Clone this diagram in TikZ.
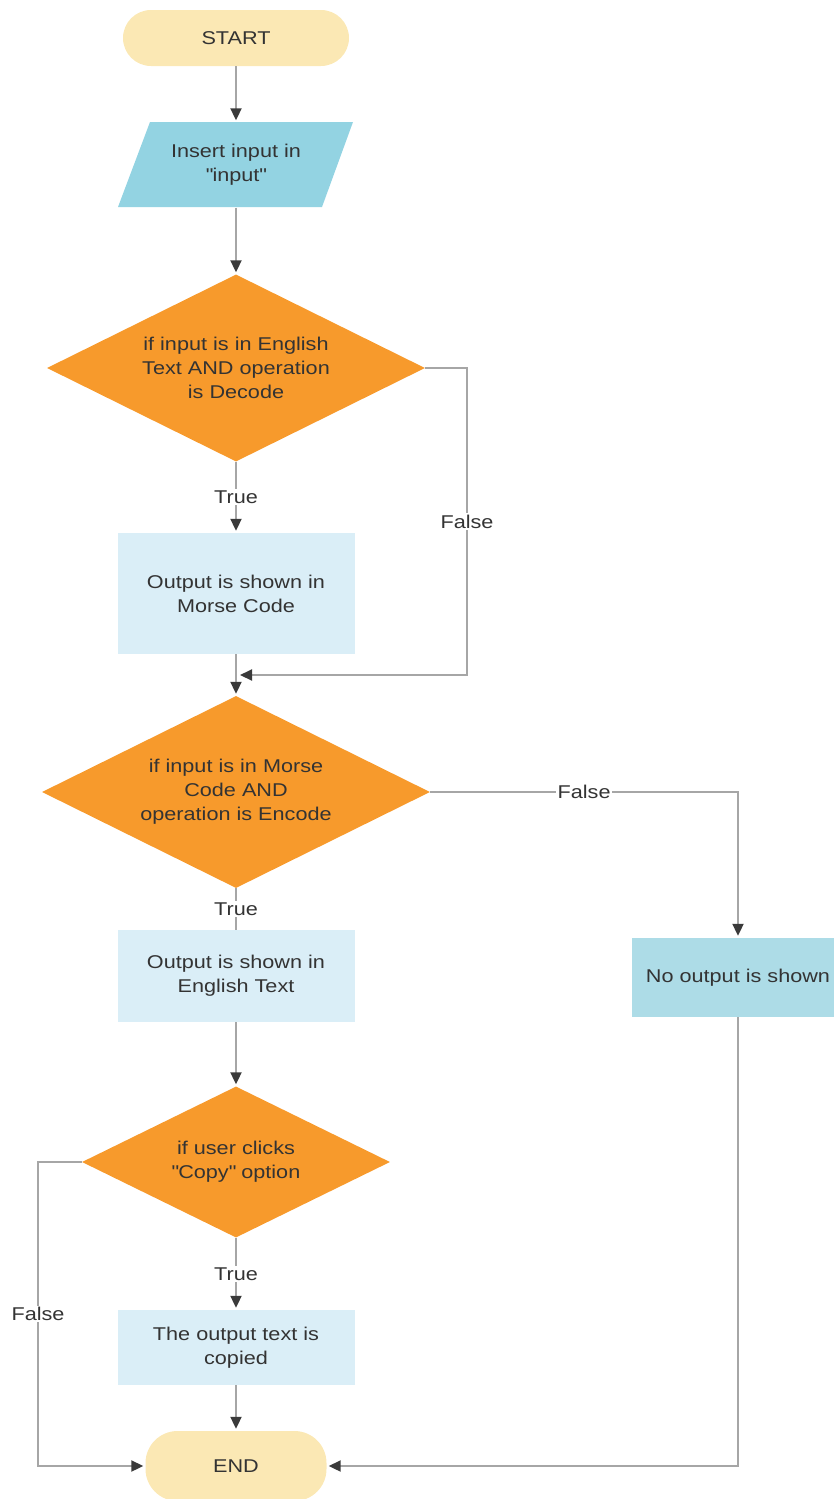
\documentclass[tikz,border=0pt]{standalone}
\usepackage{fontspec}
\setmainfont{Liberation Sans}[FakeStretch=1.17]
\usetikzlibrary{arrows.meta,shapes.geometric}
\definecolor{termfill}{HTML}{FBE8B4}
\definecolor{iofill}{HTML}{93D3E2}
\definecolor{procfill}{HTML}{DAEEF7}
\definecolor{nofill}{HTML}{ADDCE7}
\definecolor{decfill}{HTML}{F79A2C}
\definecolor{linegray}{HTML}{A6A6A6}
\definecolor{tipgray}{HTML}{3A3A3A}
\definecolor{txt}{HTML}{333333}
\begin{document}
\begin{tikzpicture}[x=1pt,y=-1pt,
  every node/.style={font=\fontsize{18.5}{24}\selectfont, text=txt, align=center},
  term/.style={fill=termfill, rounded corners=28pt, inner sep=0pt},
  proc/.style={fill=procfill, minimum width=237pt, inner sep=0pt},
  dec/.style={diamond, fill=decfill, inner sep=0pt, aspect=2},
  flow/.style={draw=linegray, line width=2pt, shorten >=2pt,
     -{Triangle[length=12pt,width=11pt,color=tipgray]}},
  plain/.style={draw=linegray, line width=2pt},
  lbl/.style={fill=white, inner sep=1.5pt}]
\useasboundingbox (0,0) rectangle (834,1499);
% nodes
\node[term, minimum width=226pt, minimum height=56pt] (start) at (236,38) {START};
\fill[iofill] (150,122) -- (353,122) -- (322,207) -- (118,207) -- cycle;
\node[minimum width=204pt, minimum height=85pt, inner sep=0pt] (inp) at (236,165) {Insert input in\\\textquotedbl input\textquotedbl};
\node[dec, minimum width=378pt, minimum height=187pt] (d1) at (236,368) {if input is in English\\Text AND operation\\is Decode};
\node[proc, minimum height=121pt] (p1) at (236,593.5) {Output is shown in\\Morse Code};
\coordinate (m1) at (236,675);
\node[dec, minimum width=388pt, minimum height=192pt] (d2) at (236,792) {if input is in Morse\\Code AND\\operation is Encode};
\node[proc, minimum height=92pt] (p2) at (236,976) {Output is shown in\\English Text};
\node[fill=nofill, minimum width=212pt, minimum height=79pt, inner sep=0pt] (no) at (738,977.5) {No output is shown};
\node[dec, minimum width=308pt, minimum height=151pt] (d3) at (236,1162) {if user clicks\\\textquotedbl Copy\textquotedbl{} option};
\node[proc, minimum height=75pt] (p3) at (236,1347.5) {The output text is\\copied};
\node[term, rounded corners=32pt, minimum width=181pt, minimum height=70pt] (end) at (236,1466) {END};
% connectors
\draw[flow] (start.south) -- (inp.north);
\draw[flow] (inp.south) -- (d1.north);
\draw[flow] (d1.south) -- node[lbl]{True} (p1.north);
\draw[flow] (d1.east) -- (467,368) -- node[lbl]{False} (467,675) -- ([xshift=2pt]m1);
\draw[flow] (p1.south) -- (d2.north);
\draw[flow] (d2.east) -- node[lbl]{False} (738,792) -- (no.north);
\draw[plain] (d2.south) -- node[lbl]{True} (p2.north);
\draw[flow] (p2.south) -- (d3.north);
\draw[flow] (d3.south) -- node[lbl]{True} (p3.north);
\draw[flow] (d3.west) -- (38,1162) -- node[lbl]{False} (38,1466) -- (end.west);
\draw[flow] (p3.south) -- (end.north);
\draw[flow] (no.south) -- (738,1466) -- (end.east);
\end{tikzpicture}
\end{document}
